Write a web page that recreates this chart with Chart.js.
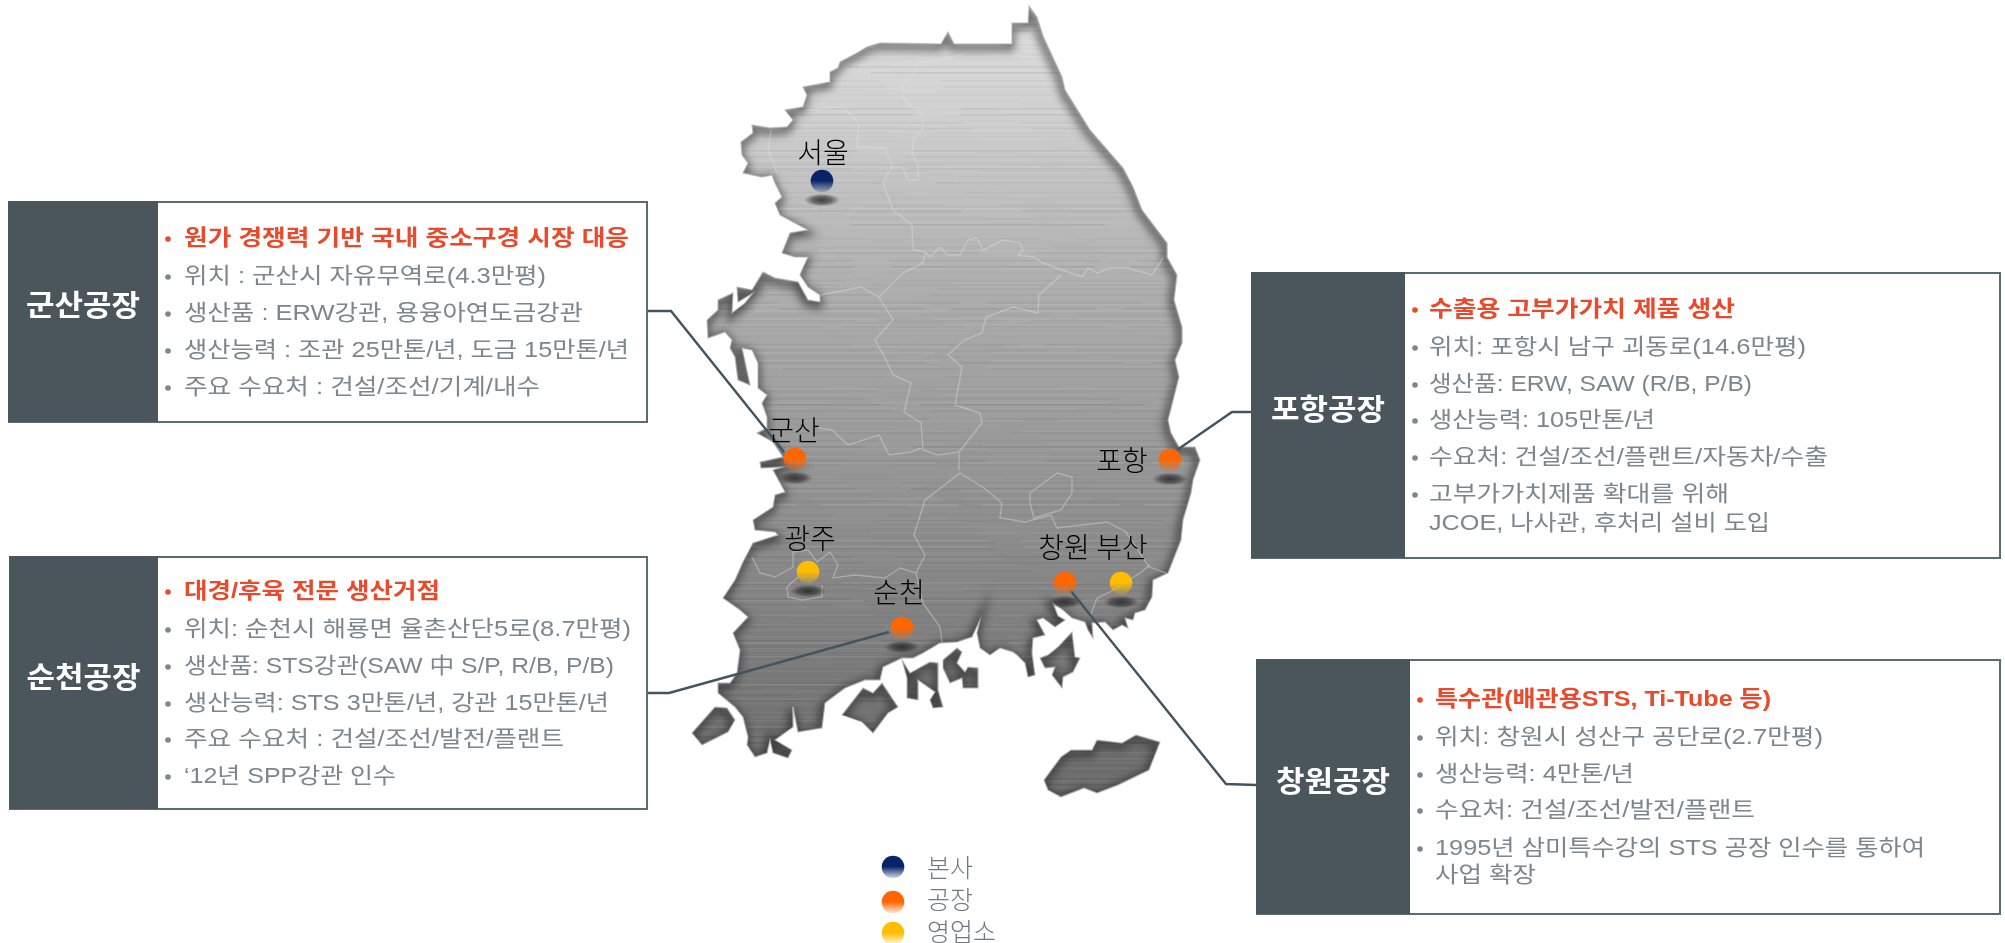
<!DOCTYPE html>
<html lang="ko"><head><meta charset="utf-8"><title>공장 현황</title>
<style>html,body{margin:0;padding:0;background:#fff}canvas{display:block}</style>
<script src="https://cdn.jsdelivr.net/npm/chart.js@4/dist/chart.umd.min.js"></script>
</head><body><canvas id="c" width="2005" height="943"></canvas>
<script>
// ---------- map outlines (map units, 0-2005 / 0-943) ----------
const mainland=[[1029,6],[1037,17],[1043,36],[1062,77],[1065,90],[1090,130],[1123,168],[1133,187],[1142,210],[1167,243],[1167,257],[1177,275],[1174,300],[1182,327],[1182,343],[1175,360],[1179,377],[1168,420],[1171,433],[1179,447],[1195,447],[1200,460],[1193,480],[1191,493],[1183,520],[1181,540],[1168,573],[1153,580],[1152,597],[1145,610],[1135,613],[1133,620],[1125,618],[1128,628],[1122,625],[1113,630],[1105,622],[1092,623],[1093,638],[1088,630],[1085,622],[1072,618],[1063,610],[1053,603],[1058,616],[1065,620],[1055,627],[1043,618],[1037,620],[1045,635],[1033,638],[1032,653],[1035,675],[1028,677],[1025,663],[1017,655],[1013,652],[1000,648],[990,655],[980,648],[977,633],[980,620],[972,637],[957,642],[940,643],[923,653],[913,658],[902,658],[883,667],[880,680],[865,680],[845,688],[825,703],[822,728],[798,732],[793,707],[793,727],[775,740],[792,750],[788,758],[773,753],[770,740],[767,753],[755,757],[747,745],[748,737],[743,717],[735,707],[718,693],[718,683],[730,683],[737,673],[740,650],[733,633],[748,617],[740,610],[723,598],[735,580],[743,562],[753,543],[778,535],[775,532],[755,530],[753,520],[773,507],[775,495],[785,492],[773,470],[783,467],[761,468],[760,462],[783,457],[773,442],[757,433],[767,428],[767,417],[762,403],[767,395],[758,388],[758,363],[752,350],[742,348],[750,385],[738,380],[735,357],[730,348],[732,340],[725,332],[708,338],[707,320],[718,310],[718,300],[733,293],[732,313],[745,303],[753,293],[738,302],[737,287],[752,290],[763,272],[775,278],[798,282],[808,300],[820,302],[820,295],[808,287],[800,275],[802,270],[808,257],[795,257],[782,253],[790,233],[808,230],[793,222],[780,215],[775,203],[782,197],[775,183],[772,175],[762,177],[743,173],[748,163],[742,155],[741,142],[753,133],[752,125],[770,128],[787,127],[793,120],[785,110],[803,107],[807,95],[803,87],[830,82],[830,72],[838,68],[840,62],[857,53],[867,47],[880,43],[941,44],[948,32],[954,44],[1012,44],[1012,23],[1028,23]];
const jeju=[[1044,780],[1061,757],[1071,750],[1092,750],[1097,740],[1122,743],[1136,735],[1160,742],[1149,770],[1118,785],[1097,793],[1084,788],[1061,797],[1048,790]];
const jindo=[[692,733],[715,707],[727,708],[735,720],[728,732],[702,745]];
const wando=[[842,715],[863,688],[873,693],[882,683],[898,707],[888,713],[873,733],[862,722]];
const namhae=[[902,660],[910,673],[930,662],[938,663],[938,690],[943,707],[933,708],[930,700],[935,692],[918,680],[918,700],[907,698],[907,678]];
const goheung=[[943,660],[957,648],[962,652],[957,663],[965,672],[968,667],[978,668],[978,688],[963,688],[962,678],[950,683],[943,668]];
const geoje=[[1058,647],[1072,632],[1075,657],[1080,658],[1073,672],[1063,677],[1062,688],[1052,675],[1055,667],[1045,668],[1040,658],[1048,655]];
// ---------- province borders ----------
const borderGangwon=[[963,55],[950,57],[940,60],[920,62],[912,75],[903,85],[903,97],[913,108],[923,115],[923,128],[913,140],[912,153],[918,165],[918,180],[908,180],[902,167],[892,167],[883,183],[893,210],[912,225],[913,250],[925,252],[930,257],[940,247],[947,255],[960,255],[968,240],[977,238],[983,250],[1003,240],[1020,243],[1023,250],[1018,255],[1033,257],[1043,263],[1068,272],[1082,277],[1088,268],[1097,273],[1110,268],[1128,268],[1152,275],[1163,258]];
const borderGyeonggi=[[925,253],[923,263],[903,273],[879,297],[861,287],[846,290],[821,295]];
const borderChungbukW=[[879,297],[893,320],[875,340],[886,360],[893,375],[911,383],[904,412],[921,423],[923,450],[938,455],[959,452],[959,470]];
const borderChungbukE=[[1061,275],[1039,295],[1038,313],[1013,307],[986,317],[982,333],[964,340],[948,355],[962,367],[955,405],[980,413],[982,423],[959,452]];
const borderJeonbukN=[[818,428],[832,430],[848,445],[879,435],[889,455],[911,452],[921,448]];
const borderJeonbukS=[[960,473],[925,500],[914,535],[925,555],[916,573],[900,568],[885,578],[855,575],[833,578],[838,565],[830,552],[817,562],[808,550],[793,552],[793,567],[775,577],[760,573],[752,557]];
const borderJeonnamE=[[916,573],[923,603],[928,610],[940,627],[942,642]];
const borderGwangju=[[798,577],[787,587],[788,597],[802,600],[822,597],[822,585]];
const borderGyeongnam=[[960,473],[984,488],[1002,503],[1000,518],[1025,522],[1051,515],[1057,528],[1107,522],[1126,532],[1149,567],[1166,573]];
const borderDaegu=[[1030,493],[1057,473],[1072,477],[1072,493],[1061,510],[1034,518],[1030,503],[1030,493]];
const borderBusan=[[1150,565],[1140,573],[1110,592],[1097,598],[1090,617]];
const borderIncheon=[[771,130],[768,150],[777,173]];
const borderSeoul=[[807,110],[843,107],[859,123],[857,147],[886,148],[892,167]];
// ---------- sites ----------
const hqNames=['서울'];      const hqX=[822];                 const hqY=[181];
const factoryNames=['군산','포항','순천','창원']; const factoryX=[795,1170,902,1065]; const factoryY=[459,460,628,583];
const salesNames=['광주','부산']; const salesX=[808,1121];    const salesY=[572,583];
const legendNames=['본사','공장','영업소'];
const legendMarkX=[893,893,893]; const legendMarkY=[867,902,933];
// ---------- leader lines ----------
const leadGunsan=[[647,311],[671,311],[784,452]];
const leadPohang=[[1251,412],[1232,412],[1177,450]];
const leadSuncheon=[[647,693],[669,693],[889,632]];
const leadChangwon=[[1071,591],[1226,784],[1256,785]];
// ---------- info boxes ----------
const gunsanLines=['원가 경쟁력 기반 국내 중소구경 시장 대응','위치 : 군산시 자유무역로(4.3만평)','생산품 : ERW강관, 용융아연도금강관','생산능력 : 조관 25만톤/년, 도금 15만톤/년','주요 수요처 : 건설/조선/기계/내수'];
const suncheonLines=['대경/후육 전문 생산거점','위치: 순천시 해룡면 율촌산단5로(8.7만평)','생산품: STS강관(SAW 中 S/P, R/B, P/B)','생산능력: STS 3만톤/년, 강관 15만톤/년','주요 수요처 : 건설/조선/발전/플랜트','‘12년 SPP강관 인수'];
const pohangLines=['수출용 고부가가치 제품 생산','위치: 포항시 남구 괴동로(14.6만평)','생산품: ERW, SAW (R/B, P/B)','생산능력: 105만톤/년','수요처: 건설/조선/플랜트/자동차/수출','고부가가치제품 확대를 위해','JCOE, 나사관, 후처리 설비 도입'];
const changwonLines=['특수관(배관용STS, Ti-Tube 등)','위치: 창원시 성산구 공단로(2.7만평)','생산능력: 4만톤/년','수요처: 건설/조선/발전/플랜트','1995년 삼미특수강의 STS 공장 인수를 통하여','사업 확장'];

const FONT='"Liberation Sans","Noto Sans CJK KR",sans-serif';
const boxes=[
 {title:'군산공장',lines:gunsanLines,l:8,m:158,r:647,t:201,b:422,ty:308,bx:168,tx:184,ys:[239,277,314,351,388],ws:[445,362,399,445,356],noBullet:[]},
 {title:'순천공장',lines:suncheonLines,l:9,m:158,r:647,t:556,b:809,ty:680,bx:168,tx:184,ys:[592,630,667,704,740,777],ws:[256,447,430,425,380,212],noBullet:[]},
 {title:'포항공장',lines:pohangLines,l:1251,m:1405,r:2000,t:272,b:558,ty:412,bx:1415,tx:1429,ys:[310,348,385,421,458,495,524],ws:[306,377,323,226,399,300,341],noBullet:[6]},
 {title:'창원공장',lines:changwonLines,l:1256,m:1410,r:2000,t:659,b:914,ty:784,bx:1420,tx:1435,ys:[700,738,775,811,849,876],ws:[336,388,199,320,490,101],noBullet:[5]}
];
const cityLabels=[['서울',823,152],['군산',794,430],['포항',1122,460],['광주',810,538],['순천',899,592],['창원',1064,547],['부산',1122,547]];
const legendText=[[927,867],[927,899],[927,931]];

const pts=a=>a.map(p=>({x:p[0],y:p[1]}));
const zip=(xs,ys)=>xs.map((x,i)=>({x,y:ys[i]}));

// brushed metal texture (deterministic)
function metal(){
  const c=document.createElement('canvas');c.width=2005;c.height=943;const g=c.getContext('2d');
  const lg=g.createLinearGradient(0,0,0,943);
  lg.addColorStop(0,'#e0e0e0');lg.addColorStop(.12,'#d0d0d0');lg.addColorStop(.3,'#aeaeae');
  lg.addColorStop(.55,'#8f8f8f');lg.addColorStop(.72,'#797979');lg.addColorStop(.85,'#6a6a6a');lg.addColorStop(1,'#606060');
  g.fillStyle=lg;g.fillRect(0,0,2005,943);
  g.filter='blur(.6px)';
  for(let y=0;y<943;y+=2){
    const v=Math.sin(y*1.73)*Math.sin(y*.37)+.6*Math.sin(y*.91+1.3);
    const a=Math.min(.13,Math.abs(v)*.07);
    g.fillStyle=v>0?`rgba(255,255,255,${a})`:`rgba(0,0,0,${a*.7})`;
    const step=140+Math.abs(Math.sin(y*.53))*260;
    for(let x=600;x<1250;x+=step){g.fillRect(x+Math.sin(y)*60,y,step*.85,1.6);}
  }
  return g.createPattern(c,'no-repeat');
}
const metalPattern=metal();

function shadowImage(){
  const c=document.createElement('canvas');c.width=40;c.height=20;const g=c.getContext('2d');
  g.translate(20,10);g.scale(1,.36);
  const r=g.createRadialGradient(0,0,1,0,0,18);
  r.addColorStop(0,'rgba(35,35,35,.8)');r.addColorStop(.55,'rgba(40,40,40,.55)');r.addColorStop(1,'rgba(60,60,60,0)');
  g.fillStyle=r;g.beginPath();g.arc(0,0,18,0,Math.PI*2);g.fill();return c;
}
const shadowImg=shadowImage();

function ballImage(color){
  const c=document.createElement('canvas');c.width=24;c.height=24;const g=c.getContext('2d');
  const lg=g.createLinearGradient(0,1,0,23);
  lg.addColorStop(0,`rgba(${color},1)`);lg.addColorStop(.48,`rgba(${color},1)`);lg.addColorStop(1,`rgba(${color},.18)`);
  g.fillStyle=lg;g.beginPath();g.arc(12,12,11.3,0,Math.PI*2);g.fill();return c;
}
const land=(d)=>({data:pts(d),showLine:true,fill:'shape',backgroundColor:metalPattern,borderColor:'rgba(190,190,190,.6)',borderWidth:1,pointRadius:0,tension:0,order:50,isLand:true});
const line=(d)=>({data:pts(d),showLine:true,fill:false,borderColor:'rgba(226,226,226,.38)',borderWidth:1.4,pointRadius:0,tension:0,order:40});
const lead=(d)=>({data:pts(d),showLine:true,fill:false,borderColor:'#44545e',borderWidth:2.4,pointRadius:0,tension:0,order:20});
const balls=(xs,ys,color)=>({data:zip(xs,ys),showLine:false,pointStyle:ballImage(color),pointRadius:1,order:10});
const shade=(xs,ys)=>({data:zip(xs,ys.map(v=>v+19)),showLine:false,pointStyle:shadowImg,pointRadius:1,order:30});

const NAVY='8,36,104',ORANGE='255,102,0',GOLD='255,189,0';

const painter={id:'painter',
 afterDatasetDraw(chart,args){
  const ds=chart.data.datasets[args.index];
  if(!ds.isLand)return;
  const c=chart.ctx,xs=chart.scales.x,ys=chart.scales.y,p=new Path2D();
  ds.data.forEach((q,i)=>{const X=xs.getPixelForValue(q.x),Y=ys.getPixelForValue(q.y);i?p.lineTo(X,Y):p.moveTo(X,Y);});
  p.closePath();
  c.save();c.clip(p);c.translate(-1.5,3);c.filter='blur(4px)';
  c.strokeStyle='rgba(25,25,25,.6)';c.lineWidth=7.5;c.stroke(p);c.restore();
  c.save();c.filter='blur(.7px)';c.strokeStyle='rgba(185,185,185,.55)';c.lineWidth=1.4;c.stroke(p);c.restore();
 },
 afterDatasetsDraw(chart){
  const c=chart.ctx,xs=chart.scales.x,ys=chart.scales.y;
  const X=v=>xs.getPixelForValue(v),Y=v=>ys.getPixelForValue(v);
  c.save();c.textBaseline='middle';
  // city labels
  c.fillStyle='#000';c.textAlign='center';c.font='300 28px "Noto Sans CJK KR"';
  cityLabels.forEach(l=>c.fillText(l[0],X(l[1]),Y(l[2])));
  // legend labels
  c.fillStyle='#6f7a85';c.textAlign='left';c.font='300 25px "Noto Sans CJK KR"';
  legendNames.forEach((n,i)=>c.fillText(n,X(legendText[i][0]),Y(legendText[i][1])));
  // boxes
  boxes.forEach(b=>{
    c.fillStyle='#fff';c.fillRect(X(b.m),Y(b.t),X(b.r)-X(b.m),Y(b.b)-Y(b.t));
    c.strokeStyle='#5d6b74';c.lineWidth=2;c.strokeRect(X(b.l)+1,Y(b.t)+1,X(b.r)-X(b.l)-1,Y(b.b)-Y(b.t)-1);
    c.fillStyle='#4a555c';c.fillRect(X(b.l),Y(b.t),X(b.m)-X(b.l),Y(b.b)-Y(b.t));
    c.font='bold 29px '+FONT;c.textAlign='center';c.fillStyle='#fff';
    const ts=114/c.measureText(b.title).width;
    c.save();c.translate((X(b.l)+X(b.m))/2,Y(b.ty));c.scale(ts,1);c.fillText(b.title,0,0);c.restore();
    c.textAlign='left';
    b.lines.forEach((s,i)=>{
      c.fillStyle=i===0?'#e84a2b':'#7b868e';c.font=(i===0?'bold ':'')+'22px '+FONT;
      if(!b.noBullet.includes(i)){c.beginPath();c.arc(X(b.bx),Y(b.ys[i]),2.8,0,Math.PI*2);c.fill();}
      const hs=b.ws[i]/c.measureText(s).width;
      c.save();c.translate(X(b.tx),Y(b.ys[i]));c.scale(hs,1);c.fillText(s,0,0);c.restore();
    });
  });
  c.restore();
 }
};

new Chart(document.getElementById('c'),{
 type:'scatter',
 data:{datasets:[
  balls(hqX,hqY,NAVY),balls(factoryX,factoryY,ORANGE),balls(salesX,salesY,GOLD),
  balls(legendMarkX.slice(0,1),legendMarkY.slice(0,1),NAVY),
  balls(legendMarkX.slice(1,2),legendMarkY.slice(1,2),ORANGE),
  balls(legendMarkX.slice(2,3),legendMarkY.slice(2,3),GOLD),
  lead(leadGunsan),lead(leadPohang),lead(leadSuncheon),lead(leadChangwon),
  shade(hqX,hqY),shade(factoryX,factoryY),shade(salesX,salesY),
  line(borderGangwon),line(borderGyeonggi),line(borderChungbukW),line(borderChungbukE),line(borderJeonbukN),line(borderJeonbukS),line(borderJeonnamE),line(borderGwangju),line(borderGyeongnam),line(borderDaegu),line(borderBusan),line(borderIncheon),line(borderSeoul),
  land(mainland),land(jeju),land(jindo),land(wando),land(namhae),land(goheung),land(geoje)
 ]},
 options:{responsive:false,animation:false,devicePixelRatio:1,
  layout:{padding:0,autoPadding:false},
  plugins:{legend:{display:false},tooltip:{enabled:false}},
  events:[],
  scales:{x:{type:'linear',display:false,min:0,max:2005},y:{type:'linear',display:false,reverse:true,min:0,max:943}}
 },
 plugins:[painter]
});
</script></body></html>
